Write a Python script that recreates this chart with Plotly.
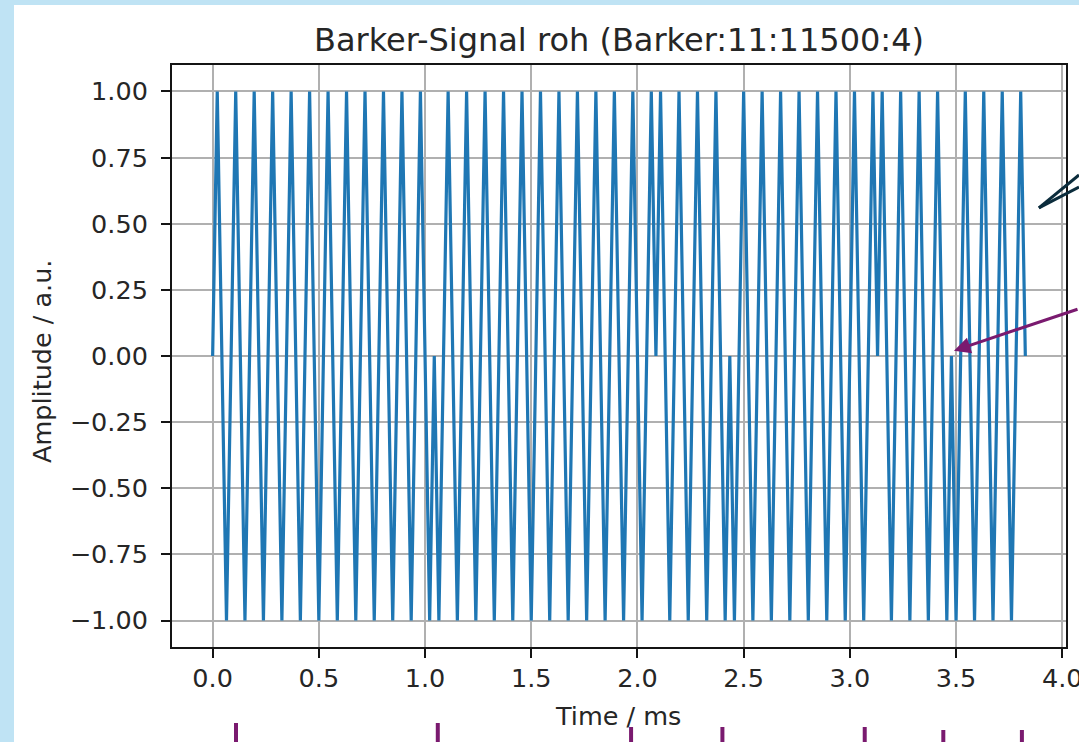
import numpy as np
import plotly.graph_objects as go

# ---- data ----
barker_code = [1, 1, 1, -1, -1, -1, 1, -1, -1, 1, -1]   # chip signs (phase flips)
cycle_samples = [0, 1, 0, -1]                            # samples per carrier cycle
cycles_per_chip = 4
carrier_hz = 11500
end_value = [0]

x_ticks = [0.0, 0.5, 1.0, 1.5, 2.0, 2.5, 3.0, 3.5, 4.0]
x_tick_text = ["0.0", "0.5", "1.0", "1.5", "2.0", "2.5", "3.0", "3.5", "4.0"]
y_ticks = [-1.0, -0.75, -0.5, -0.25, 0.0, 0.25, 0.5, 0.75, 1.0]
y_tick_text = ["\u22121.00", "\u22120.75", "\u22120.50", "\u22120.25", "0.00",
               "0.25", "0.50", "0.75", "1.00"]

marker_times = [0.11, 1.06, 1.97, 2.40, 3.07, 3.44, 3.81]   # hand-drawn purple ticks
arrow_target = (3.49, 0.02)                                  # purple arrow head
teal_target = (3.89, 0.56)                                   # dark arrow tip

title_text = "Barker-Signal roh (Barker:11:11500:4)"
x_title = "Time / ms"
y_title = "Amplitude / a.u."

# ---- build series ----
amp = []
for c in barker_code:
    for _ in range(cycles_per_chip):
        amp.extend([c * s for s in cycle_samples])
amp.extend(end_value)
amp = np.array(amp, dtype=float)
dt_ms = 1000.0 / (carrier_hz * len(cycle_samples))
t = np.arange(len(amp)) * dt_ms

# ---- layout geometry ----
W, H = 1079, 742
L, R, T, B = 172, 1066, 65, 647
xr = [-0.1913, 4.0176]
yr = [-1.1, 1.1]


def px_x(p):
    return (p - L) / (R - L)


def px_y(p):
    return (B - p) / (B - T)


def dx(v):
    return (v - xr[0]) / (xr[1] - xr[0])


def dy(v):
    return (v - yr[0]) / (yr[1] - yr[0])


font_family = "DejaVu Sans, sans-serif"
txt = "#262626"
tick_size = 25.5
title_size = 32

fig = go.Figure()
fig.add_trace(go.Scatter(x=t, y=amp, mode="lines",
                         line=dict(color="#1f77b4", width=3.2),
                         showlegend=False, hoverinfo="skip"))

axis_common = dict(showline=True, linecolor="#141414", linewidth=2, mirror=True,
                   ticks="outside", ticklen=9, tickwidth=2, tickcolor="#141414",
                   showgrid=True, gridcolor="#b0b0b0", gridwidth=1.6,
                   zeroline=False, ticklabeloverflow="allow", automargin=False,
                   tickfont=dict(family=font_family, size=tick_size, color=txt))

fig.update_xaxes(range=xr, tickvals=x_ticks, ticktext=x_tick_text,
                 ticklabelstandoff=-2, **axis_common)
fig.update_yaxes(range=yr, tickvals=y_ticks, ticktext=y_tick_text,
                 ticklabelstandoff=8, **axis_common)

shapes = []
blue = "#bfe3f4"
# slide background strips
shapes.append(dict(type="rect", xref="paper", yref="paper",
                   x0=px_x(0), x1=px_x(14), y0=px_y(742), y1=px_y(0),
                   fillcolor=blue, line=dict(width=0), layer="below"))
shapes.append(dict(type="rect", xref="paper", yref="paper",
                   x0=px_x(0), x1=px_x(1079), y0=px_y(5), y1=px_y(0),
                   fillcolor=blue, line=dict(width=0), layer="below"))
# dark double line pointer
tx, ty = dx(teal_target[0]), dy(teal_target[1])
for end_y in (175, 187):
    shapes.append(dict(type="line", xref="paper", yref="paper",
                       x0=tx, y0=ty, x1=px_x(1079), y1=px_y(end_y),
                       line=dict(color="#0b2c3c", width=3)))
# purple ticks at the bottom
for i, mt in enumerate(marker_times):
    top = 723 if i < 2 else (727 if i < 5 else 730)
    shapes.append(dict(type="line", xref="paper", yref="paper",
                       x0=dx(mt), x1=dx(mt), y0=px_y(top), y1=px_y(742),
                       line=dict(color="#7a1a6f", width=4)))

annotations = [
    dict(text=title_text, xref="paper", yref="paper", x=px_x(619), y=px_y(40),
         xanchor="center", yanchor="middle", showarrow=False,
         font=dict(family=font_family, size=title_size, color=txt)),
    dict(text=x_title, xref="paper", yref="paper", x=px_x(618), y=px_y(716),
         xanchor="center", yanchor="middle", showarrow=False,
         font=dict(family=font_family, size=tick_size, color=txt)),
    dict(text=y_title, xref="paper", yref="paper", x=px_x(42), y=px_y(362),
         xanchor="center", yanchor="middle", showarrow=False, textangle=-90,
         font=dict(family=font_family, size=tick_size, color=txt)),
    dict(text="", xref="paper", yref="paper",
         x=dx(arrow_target[0]), y=dy(arrow_target[1]),
         ax=126, ay=-42, showarrow=True, arrowhead=2, arrowsize=1.1,
         arrowwidth=3, arrowcolor="#7a1a6f"),
]

fig.update_layout(width=W, height=H, autosize=False,
                  margin=dict(l=L, r=W - R, t=T, b=H - B, pad=0, autoexpand=False),
                  paper_bgcolor="white", plot_bgcolor="white",
                  shapes=shapes, annotations=annotations,
                  font=dict(family=font_family, color=txt))

fig.write_html("out.html",
               config={"displayModeBar": False, "responsive": False},
               post_script="document.body.style.margin='0';"
                           "document.body.style.overflow='hidden';"
                           "document.documentElement.style.overflow='hidden';"
                           "var gd=document.getElementById('{plot_id}');"
                           "gd.style.overflow='hidden';")
